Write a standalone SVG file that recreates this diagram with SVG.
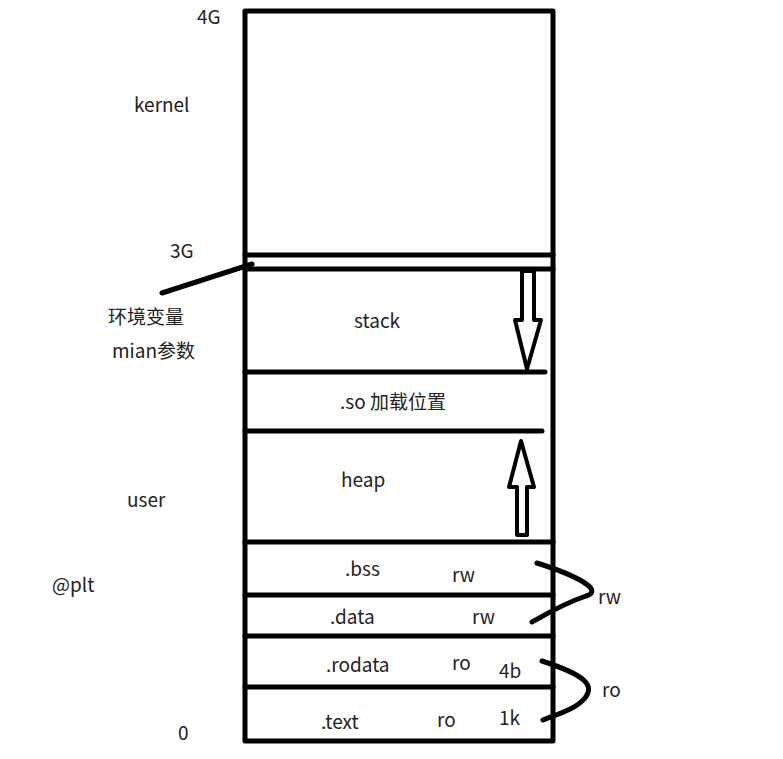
<svg xmlns="http://www.w3.org/2000/svg" width="783" height="759" viewBox="0 0 783 759">
<style>
.l{stroke:#000;stroke-width:5;fill:none;stroke-linecap:round;stroke-linejoin:round}
.a{stroke:#000;stroke-width:4;fill:#fff;stroke-linejoin:round}
text{font-family:"Microsoft YaHei","Noto Sans CJK SC",sans-serif;font-size:19px;fill:#222}
</style>
<rect width="783" height="759" fill="#fff"/>
<g id="memory">
<rect x="245" y="11" width="308" height="730" class="l"/>
<line x1="245" y1="255" x2="553" y2="255" class="l"/>
<line x1="245" y1="269" x2="553" y2="269" class="l"/>
<line x1="245" y1="372" x2="545" y2="372" class="l"/>
<line x1="245" y1="431" x2="542" y2="431" class="l"/>
<line x1="245" y1="542" x2="553" y2="542" class="l"/>
<line x1="245" y1="595" x2="553" y2="595" class="l"/>
<line x1="245" y1="636" x2="553" y2="636" class="l"/>
<line x1="245" y1="687" x2="553" y2="687" class="l"/>
</g>
<g id="labels">
<text x="197" y="24">4G</text>
<text x="134" y="112">kernel</text>
<text x="170" y="258">3G</text>
<text x="108" y="324">环境变量</text>
<text x="112" y="358">mian参数</text>
<text x="354" y="328">stack</text>
<text x="340" y="409">.so 加载位置</text>
<text x="341" y="487">heap</text>
<text x="127" y="507">user</text>
<text x="52" y="592">@plt</text>
<text x="345" y="576">.bss</text>
<text x="452" y="582">rw</text>
<text x="330" y="624">.data</text>
<text x="472" y="624">rw</text>
<text x="598" y="604">rw</text>
<text x="326" y="672">.rodata</text>
<text x="452" y="670">ro</text>
<text x="499" y="678">4b</text>
<text x="602" y="697">ro</text>
<text x="321" y="729">.text</text>
<text x="437" y="727">ro</text>
<text x="499" y="725">1k</text>
<text x="178" y="740">0</text>
</g>
<g id="connectors">
<path d="M162 293 L252 264" class="l"/>
<path d="M522 271 V320 H515 L527 369 L541 320 H534 V271 Z" class="a"/>
<path d="M517 535 V487 H509 L521 441 L534 487 H527 V535 Z" class="a"/>
<path d="M537 563 C575 575 605 590 586 596 C560 605 545 615 532 622" class="l"/>
<path d="M542 661 C585 675 595 685 585 698 C575 710 555 715 543 720" class="l"/>
</g>
</svg>
